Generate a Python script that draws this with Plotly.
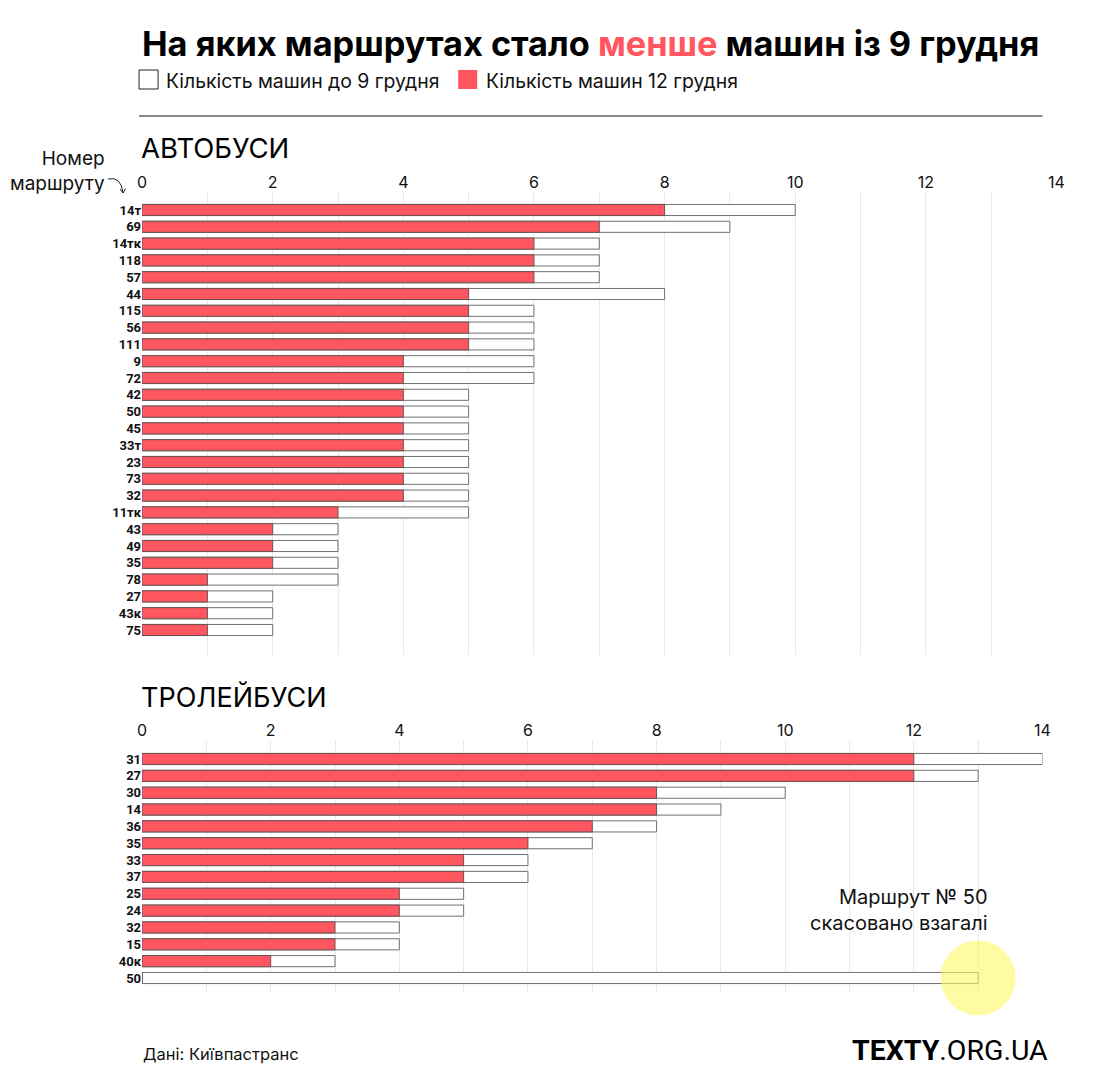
import plotly.graph_objects as go

W, H = 1111, 1092

# ---------------- data ----------------
bus_routes = ["14т", "69", "14тк", "118", "57", "44", "115", "56", "111", "9", "72", "42", "50",
              "45", "33т", "23", "73", "32", "11тк", "43", "49", "35", "78", "27", "43к", "75"]
bus_before = [10, 9, 7, 7, 7, 8, 6, 6, 6, 6, 6, 5, 5, 5, 5, 5, 5, 5, 5, 3, 3, 3, 3, 2, 2, 2]
bus_after = [8, 7, 6, 6, 6, 5, 5, 5, 5, 4, 4, 4, 4, 4, 4, 4, 4, 4, 3, 2, 2, 2, 1, 1, 1, 1]

trol_routes = ["31", "27", "30", "14", "36", "35", "33", "37", "25", "24", "32", "15", "40к", "50"]
trol_before = [14, 13, 10, 9, 8, 7, 6, 6, 5, 5, 4, 4, 3, 13]
trol_after = [12, 12, 8, 8, 7, 6, 5, 5, 4, 4, 3, 3, 2, 0]

x_ticks = [0, 2, 4, 6, 8, 10, 12, 14]
x_max = 14
cancelled_route = "50"

RED = "#FF5660"
FONT = "Inter"

# measured placement of the figure in the photographed page
OFF_X, EFF_W = 14.0, 1097.5
OFF_Y, EFF_H = 8, 1092


def px(x):
    return (x - OFF_X) / EFF_W


def py(y):
    return 1 - (y - OFF_Y) / EFF_H


fig = go.Figure()

# bus panel
fig.add_trace(go.Bar(y=bus_routes, x=bus_before, orientation="h", width=0.66,
                     marker=dict(color="white", line=dict(color="#707070", width=1)),
                     xaxis="x", yaxis="y", hoverinfo="skip"))
fig.add_trace(go.Bar(y=bus_routes, x=bus_after, orientation="h", width=0.66,
                     marker=dict(color=RED, line=dict(color="#6a5052", width=1)),
                     xaxis="x", yaxis="y", hoverinfo="skip"))
# trolleybus panel
fig.add_trace(go.Bar(y=trol_routes, x=trol_before, orientation="h", width=0.66,
                     marker=dict(color="white", line=dict(color="#707070", width=1)),
                     xaxis="x2", yaxis="y2", hoverinfo="skip"))
fig.add_trace(go.Bar(y=trol_routes, x=trol_after, orientation="h", width=0.66,
                     marker=dict(color=RED, line=dict(color="#6a5052", width=1)),
                     xaxis="x2", yaxis="y2", hoverinfo="skip"))

xcommon = dict(range=[0, x_max], side="top", tickvals=x_ticks, showgrid=True,
               gridcolor="#e8e8e8", gridwidth=1, zeroline=False, showline=False,
               ticks="", tickfont=dict(family=FONT, size=16, color="#111"),
               minor=dict(dtick=1, showgrid=True, gridcolor="#e8e8e8", gridwidth=1),
               fixedrange=True)
ycommon = dict(type="category", showgrid=False, zeroline=False, showline=False, ticks="",
               tickfont=dict(family="Roboto", size=13, color="#111", weight="bold"),
               fixedrange=True)

# bus rows: first at y=210, last at 630 ; plot 192..655
n_b = len(bus_routes)
step_b = (630 - 210) / (n_b - 1)
top_b = -(210 - 192) / step_b
bot_b = (n_b - 1) + (655 - 630) / step_b

n_t = len(trol_routes)
step_t = (978 - 759) / (n_t - 1)
top_t = -(759 - 740) / step_t
bot_t = (n_t - 1) + (992 - 978) / step_t

X0, X1_BUS, X1_TROL = 143, 1057, 1043

fig.update_layout(
    width=W, height=H, margin=dict(l=0, r=0, t=0, b=0),
    paper_bgcolor="white", plot_bgcolor="rgba(0,0,0,0)", showlegend=False, barmode="overlay",
    xaxis=dict(domain=[px(X0), px(X1_BUS)], anchor="y", **xcommon),
    yaxis=dict(domain=[py(655), py(192)], anchor="x", range=[bot_b, top_b],
               categoryarray=bus_routes, categoryorder="array", **ycommon),
    xaxis2=dict(domain=[px(X0), px(X1_TROL)], anchor="y2", **xcommon),
    yaxis2=dict(domain=[py(992), py(740)], anchor="x2", range=[bot_t, top_t],
                categoryarray=trol_routes, categoryorder="array", **ycommon),
)

ann = []
ann.append(dict(x=px(141), y=py(43), xref="paper", yref="paper", xanchor="left", yanchor="middle",
                text="<b>На яких маршрутах стало <span style='color:%s'>менше</span> машин із 9 грудня</b>" % RED,
                showarrow=False, font=dict(family=FONT, size=34.3, color="#000")))
ann.append(dict(x=px(165), y=py(81), xref="paper", yref="paper", xanchor="left", yanchor="middle",
                text="Кількість машин до 9 грудня", showarrow=False,
                font=dict(family=FONT, size=19.4, color="#111")))
ann.append(dict(x=px(485), y=py(81), xref="paper", yref="paper", xanchor="left", yanchor="middle",
                text="Кількість машин 12 грудня", showarrow=False,
                font=dict(family=FONT, size=19.4, color="#111")))
ann.append(dict(x=px(140), y=py(148), xref="paper", yref="paper", xanchor="left", yanchor="middle",
                text="АВТОБУСИ", showarrow=False, font=dict(family=FONT, size=27.5, color="#000")))
ann.append(dict(x=px(140), y=py(697), xref="paper", yref="paper", xanchor="left", yanchor="middle",
                text="ТРОЛЕЙБУСИ", showarrow=False, font=dict(family=FONT, size=27, color="#000")))
ann.append(dict(x=px(108), y=py(171), xref="paper", yref="paper", xanchor="right", yanchor="middle",
                text="Номер<br>маршруту", showarrow=False, align="right",
                font=dict(family=FONT, size=19, color="#111")))
ann.append(dict(x=px(991), y=py(910), xref="paper", yref="paper", xanchor="right", yanchor="middle",
                text="Маршрут № 50<br>скасовано взагалі", showarrow=False, align="right",
                font=dict(family=FONT, size=20, color="#111")))
ann.append(dict(x=px(142), y=py(1054), xref="paper", yref="paper", xanchor="left", yanchor="middle",
                text="Дані: Київпастранс", showarrow=False,
                font=dict(family=FONT, size=16.5, color="#111")))
ann.append(dict(x=px(1051), y=py(1050), xref="paper", yref="paper", xanchor="right", yanchor="middle",
                text="<b>TEXTY</b>.ORG.UA", showarrow=False,
                font=dict(family="Roboto", size=28.5, color="#000")))
fig.update_layout(annotations=ann)

shapes = []
# legend squares
shapes.append(dict(type="rect", xref="paper", yref="paper", x0=px(140), x1=px(159), y0=py(89), y1=py(70),
                   line=dict(color="#222", width=1), fillcolor="white"))
shapes.append(dict(type="rect", xref="paper", yref="paper", x0=px(459), x1=px(478), y0=py(89), y1=py(70),
                   line=dict(width=0), fillcolor=RED))
# separator line
shapes.append(dict(type="line", xref="paper", yref="paper", x0=px(140), x1=px(1043), y0=py(116), y1=py(116),
                   line=dict(color="#111", width=1)))
# curved arrow near "Номер маршруту"
p0 = (109, 179)
c1 = (122, 176)
p1 = (124, 193)
shapes.append(dict(type="path", xref="paper", yref="paper",
                   path="M %f,%f Q %f,%f %f,%f" % (px(p0[0]), py(p0[1]), px(c1[0]), py(c1[1]), px(p1[0]), py(p1[1])),
                   line=dict(color="#222", width=1)))
shapes.append(dict(type="path", xref="paper", yref="paper",
                   path="M %f,%f L %f,%f L %f,%f" % (px(121), py(189), px(p1[0]), py(p1[1]), px(126.5), py(188.5)),
                   line=dict(color="#222", width=1)))
# highlight circle around the cancelled route's bar (pixel position derived from data)
ci = trol_routes.index(cancelled_route)
cx_px = X0 + trol_before[ci] * (X1_TROL - X0) / x_max
cy_px = 759 + ci * step_t
r = 37.5
shapes.append(dict(type="circle", xref="paper", yref="paper",
                   x0=px(cx_px - r), x1=px(cx_px + r), y0=py(cy_px + r), y1=py(cy_px - r),
                   fillcolor="rgba(255,248,100,0.6)", line=dict(width=0), layer="above"))
fig.update_layout(shapes=shapes)

fig.write_html("out.html")
